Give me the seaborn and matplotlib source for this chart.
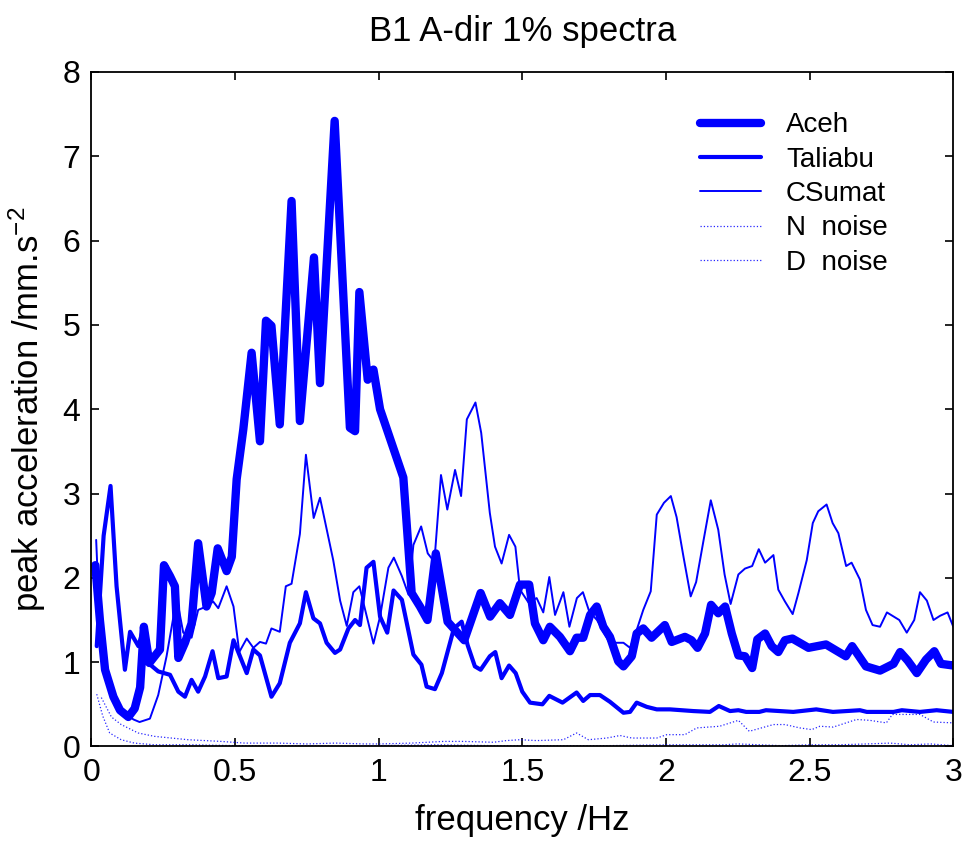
import matplotlib
matplotlib.use("Agg")
import matplotlib.pyplot as plt
import seaborn as sns
import pandas as pd

# ---------------- data ----------------
aceh_f = [0.014, 0.03, 0.048, 0.077, 0.10, 0.129, 0.151, 0.170, 0.183, 0.202, 0.239, 0.253, 0.274, 0.291,
          0.303, 0.326, 0.349, 0.372, 0.401, 0.419, 0.440, 0.471, 0.489, 0.506, 0.529, 0.558, 0.587, 0.608,
          0.627, 0.656, 0.697, 0.726, 0.775, 0.796, 0.847, 0.900, 0.918, 0.933, 0.962, 0.982, 1.005, 1.086,
          1.115, 1.144, 1.170, 1.199, 1.240, 1.298, 1.355, 1.388, 1.422, 1.457, 1.492, 1.524, 1.544, 1.573,
          1.596, 1.631, 1.666, 1.689, 1.712, 1.736, 1.759, 1.782, 1.805, 1.834, 1.852, 1.881, 1.898, 1.921,
          1.950, 1.996, 2.020, 2.066, 2.089, 2.110, 2.136, 2.157, 2.182, 2.206, 2.229, 2.252, 2.275, 2.300,
          2.318, 2.345, 2.368, 2.391, 2.414, 2.440, 2.496, 2.557, 2.626, 2.648, 2.696, 2.745, 2.792, 2.815,
          2.841, 2.873, 2.905, 2.934, 2.957, 3.0]
aceh_v = [2.15, 1.50, 0.91, 0.59, 0.43, 0.35, 0.45, 0.70, 1.42, 0.99, 1.15, 2.15, 2.02, 1.90,
          1.05, 1.23, 1.46, 2.41, 1.66, 1.82, 2.35, 2.08, 2.25, 3.17, 3.76, 4.67, 3.62, 5.05,
          4.99, 3.82, 6.47, 3.86, 5.80, 4.31, 7.42, 3.78, 3.74, 5.39, 4.35, 4.47, 4.00, 3.19,
          1.82, 1.66, 1.50, 2.29, 1.48, 1.26, 1.82, 1.54, 1.70, 1.56, 1.92, 1.92, 1.46, 1.26,
          1.42, 1.30, 1.13, 1.29, 1.29, 1.56, 1.66, 1.42, 1.30, 1.01, 0.95, 1.07, 1.34, 1.40,
          1.29, 1.44, 1.24, 1.30, 1.26, 1.17, 1.34, 1.68, 1.58, 1.66, 1.34, 1.08, 1.07, 0.93,
          1.27, 1.34, 1.19, 1.12, 1.26, 1.28, 1.17, 1.21, 1.07, 1.19, 0.95, 0.90, 0.98, 1.12,
          1.02, 0.87, 1.03, 1.13, 0.98, 0.96]

taliabu_f = [0.019, 0.043, 0.067, 0.088, 0.117, 0.135, 0.164, 0.183, 0.198, 0.233, 0.274, 0.303, 0.326,
             0.349, 0.372, 0.396, 0.422, 0.442, 0.471, 0.495, 0.541, 0.564, 0.587, 0.627, 0.656, 0.691,
             0.726, 0.747, 0.773, 0.796, 0.819, 0.848, 0.866, 0.895, 0.918, 0.935, 0.958, 0.982, 1.005,
             1.030, 1.052, 1.081, 1.121, 1.149, 1.167, 1.196, 1.220, 1.262, 1.289, 1.310, 1.335, 1.355,
             1.387, 1.406, 1.428, 1.454, 1.477, 1.500, 1.527, 1.570, 1.594, 1.640, 1.689, 1.712, 1.736,
             1.770, 1.805, 1.852, 1.875, 1.898, 1.933, 1.968, 2.014, 2.095, 2.153, 2.184, 2.223, 2.252,
             2.279, 2.325, 2.348, 2.443, 2.523, 2.581, 2.675, 2.699, 2.792, 2.821, 2.884, 2.942, 3.0]
taliabu_v = [1.19, 2.50, 3.09, 1.90, 0.91, 1.36, 1.19, 1.42, 0.99, 0.89, 0.85, 0.65, 0.59,
             0.79, 0.65, 0.83, 1.13, 0.81, 0.83, 1.26, 0.87, 1.15, 1.08, 0.59, 0.75, 1.23,
             1.46, 1.83, 1.52, 1.46, 1.23, 1.11, 1.15, 1.40, 1.50, 1.44, 2.12, 2.19, 1.54,
             1.35, 1.85, 1.74, 1.09, 0.97, 0.71, 0.68, 0.87, 1.40, 1.48, 1.20, 0.95, 0.91,
             1.07, 1.12, 0.81, 0.96, 0.87, 0.65, 0.52, 0.50, 0.60, 0.52, 0.64, 0.54, 0.61,
             0.61, 0.53, 0.40, 0.41, 0.52, 0.47, 0.44, 0.44, 0.42, 0.41, 0.48, 0.42, 0.43,
             0.41, 0.41, 0.43, 0.41, 0.44, 0.41, 0.43, 0.41, 0.41, 0.43, 0.41, 0.43, 0.41]

csumat_f = [0.017, 0.03, 0.06, 0.10, 0.13, 0.147, 0.168, 0.204, 0.233, 0.262, 0.290, 0.303, 0.320, 0.349,
            0.372, 0.401, 0.424, 0.442, 0.471, 0.495, 0.515, 0.541, 0.564, 0.587, 0.608, 0.627, 0.656,
            0.677, 0.697, 0.726, 0.747, 0.774, 0.796, 0.842, 0.866, 0.889, 0.912, 0.933, 0.982, 1.005,
            1.034, 1.053, 1.081, 1.104, 1.121, 1.148, 1.171, 1.194, 1.217, 1.239, 1.266, 1.287, 1.307,
            1.337, 1.357, 1.387, 1.405, 1.428, 1.454, 1.476, 1.492, 1.521, 1.550, 1.573, 1.594, 1.614,
            1.643, 1.664, 1.690, 1.711, 1.733, 1.760, 1.800, 1.826, 1.852, 1.875, 1.898, 1.921, 1.947,
            1.968, 1.993, 2.017, 2.037, 2.061, 2.086, 2.105, 2.130, 2.156, 2.182, 2.204, 2.225, 2.252,
            2.275, 2.300, 2.323, 2.345, 2.374, 2.391, 2.414, 2.441, 2.461, 2.490, 2.511, 2.530, 2.559,
            2.580, 2.600, 2.627, 2.646, 2.675, 2.696, 2.719, 2.745, 2.769, 2.812, 2.838, 2.864, 2.884,
            2.908, 2.931, 2.954, 2.980, 3.0]
csumat_v = [2.45, 1.40, 0.75, 0.45, 0.36, 0.32, 0.29, 0.33, 0.61, 1.07, 1.62, 1.66, 1.35, 1.29,
            1.62, 1.66, 1.72, 1.64, 1.90, 1.66, 1.12, 1.28, 1.17, 1.24, 1.22, 1.40, 1.36,
            1.90, 1.93, 2.52, 3.46, 2.71, 2.95, 2.21, 1.73, 1.43, 1.83, 1.90, 1.22, 1.54,
            2.12, 2.24, 2.02, 1.80, 2.39, 2.61, 2.29, 2.19, 3.22, 2.81, 3.28, 2.97, 3.88,
            4.08, 3.72, 2.77, 2.37, 2.17, 2.51, 2.37, 1.86, 1.71, 1.76, 1.59, 2.01, 1.56,
            1.83, 1.42, 1.76, 1.83, 1.60, 1.50, 1.25, 1.23, 1.23, 1.17, 1.38, 1.62, 1.84,
            2.75, 2.89, 2.97, 2.72, 2.25, 1.78, 1.95, 2.43, 2.92, 2.57, 2.04, 1.69, 2.04,
            2.11, 2.14, 2.34, 2.18, 2.27, 1.86, 1.72, 1.57, 1.82, 2.21, 2.65, 2.79, 2.87,
            2.65, 2.53, 2.14, 2.18, 1.98, 1.62, 1.44, 1.42, 1.59, 1.50, 1.35, 1.50, 1.83,
            1.73, 1.50, 1.55, 1.59, 1.42]

nnoise_f = [0.035, 0.07, 0.104, 0.163, 0.22, 0.337, 0.452, 0.534, 0.65, 0.75, 0.85, 0.95, 1.005, 1.115,
            1.225, 1.295, 1.40, 1.445, 1.492, 1.55, 1.643, 1.689, 1.73, 1.794, 1.84, 1.881, 1.968, 2.003,
            2.066, 2.107, 2.187, 2.252, 2.29, 2.374, 2.414, 2.466, 2.507, 2.536, 2.582, 2.663, 2.709,
            2.767, 2.788, 2.884, 2.931, 3.0]
nnoise_v = [0.58, 0.35, 0.26, 0.16, 0.12, 0.08, 0.06, 0.04, 0.04, 0.03, 0.04, 0.03, 0.03, 0.04,
            0.06, 0.06, 0.05, 0.07, 0.08, 0.07, 0.08, 0.16, 0.08, 0.10, 0.13, 0.10, 0.10, 0.14,
            0.14, 0.22, 0.24, 0.31, 0.18, 0.26, 0.26, 0.22, 0.20, 0.24, 0.23, 0.32, 0.31,
            0.28, 0.38, 0.38, 0.29, 0.28]

dnoise_f = [0.019, 0.04, 0.064, 0.104, 0.15, 0.22, 0.35, 0.5, 0.7, 0.9, 1.0, 1.2, 1.4, 1.6, 1.8,
            2.0, 2.2, 2.25, 2.4, 2.5, 2.6, 2.7, 2.78, 2.85, 2.92, 3.0]
dnoise_v = [0.62, 0.36, 0.16, 0.08, 0.04, 0.02, 0.02, 0.01, 0.01, 0.00, 0.01, 0.02, 0.01, 0.01, 0.01,
            0.02, 0.02, 0.03, 0.01, 0.02, 0.02, 0.03, 0.04, 0.02, 0.03, 0.01]

series_names = ["Aceh", "Taliabu", "CSumat", "N  noise", "D  noise"]
x_ticks = [0, 0.5, 1, 1.5, 2, 2.5, 3]
x_tick_labels = ["0", "0.5", "1", "1.5", "2", "2.5", "3"]
y_ticks = [0, 1, 2, 3, 4, 5, 6, 7, 8]
y_tick_labels = ["0", "1", "2", "3", "4", "5", "6", "7", "8"]

# ---------------- plot ----------------
sns.set_style("ticks")
plt.rcParams["font.family"] = ["Liberation Sans", "DejaVu Sans"]
plt.rcParams["mathtext.default"] = "regular"
plt.rcParams["text.color"] = "black"
plt.rcParams["axes.labelcolor"] = "black"

fig = plt.figure(figsize=(9.69, 8.41), dpi=100)
ax = fig.add_axes([0.0942, 0.1124, 0.8896, 0.802])

blue = "#0000ff"
data = [(aceh_f, aceh_v), (taliabu_f, taliabu_v), (csumat_f, csumat_v),
        (nnoise_f, nnoise_v), (dnoise_f, dnoise_v)]
widths = [6.0, 3.0, 1.4, 0.9, 0.9]
styles = ["-", "-", "-", ":", ":"]
alphas = [1, 1, 1, 0.85, 0.85]

for (fx, fy), name, lw, ls, al in zip(data, series_names, widths, styles, alphas):
    df = pd.DataFrame({"f": fx, "v": fy})
    sns.lineplot(data=df, x="f", y="v", ax=ax, color=blue, linewidth=lw,
                 linestyle=ls, alpha=al, label=name, estimator=None, sort=False)

ax.set_xlim(0, 3)
ax.set_ylim(0, 8)
ax.set_xticks(x_ticks)
ax.set_xticklabels(x_tick_labels)
ax.set_yticks(y_ticks)
ax.set_yticklabels(y_tick_labels)
ax.tick_params(direction="in", top=True, right=True, length=6, width=1.2,
               labelsize=23, pad=8, colors="black")
for sp in ax.spines.values():
    sp.set_visible(True)
    sp.set_linewidth(1.3)
    sp.set_color("black")

ax.set_xlabel("frequency /Hz", fontsize=25, labelpad=12, color="black")
ax.set_ylabel("peak acceleration /mm.s$^{-2}$", fontsize=25, labelpad=10, color="black")
ax.set_title("B1 A-dir 1% spectra", fontsize=25, pad=22, color="black")

leg = ax.legend(loc="upper left", bbox_to_anchor=(0.706, 0.94), frameon=False,
                fontsize=20, handlelength=2.2, handletextpad=0.9, labelspacing=0.3,
                borderpad=0, borderaxespad=0)
for t in leg.get_texts():
    t.set_color("black")

fig.savefig("out.png", dpi=100)
